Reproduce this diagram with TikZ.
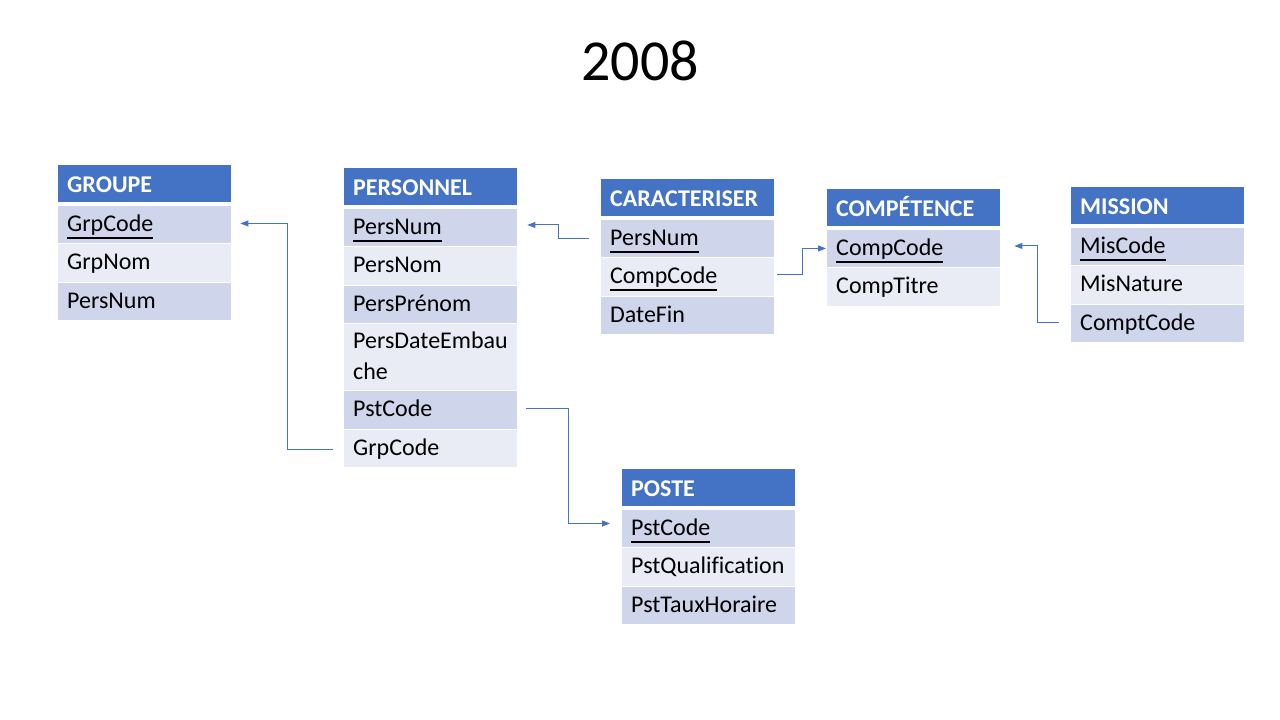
\documentclass[tikz,border=0pt]{standalone}
\usepackage{fontspec}
\setmainfont[Ligatures=NoCommon]{Carlito}
\usetikzlibrary{arrows.meta}
\definecolor{hdrblue}{HTML}{4472C4}
\definecolor{rowdark}{HTML}{CFD5EA}
\definecolor{rowlight}{HTML}{E9EBF5}
\newcommand{\keyul}[1]{\setbox0\hbox{#1}\rlap{\smash{\rule[-7.5pt]{\wd0}{2pt}}}\box0}
\newcommand{\rowstrut}{\rule[-8pt]{0pt}{30pt}}
\newcommand{\hdrstrut}{\rule[-6pt]{0pt}{29pt}}
\begin{document}
\begin{tikzpicture}[x=1pt,y=-1pt,
  tbl/.style={anchor=north west, inner xsep=9pt, inner ysep=0pt, text width=155pt, align=left, font=\fontsize{24}{28.8}\selectfont},
  hdr/.style={tbl, fill=hdrblue, text=white, font=\bfseries\fontsize{24}{28.8}\selectfont, minimum height=37pt, execute at begin node=\hdrstrut},
  rd/.style={tbl, fill=rowdark, minimum height=37.5pt, execute at begin node=\rowstrut, execute at end node=\rowstrut},
  rl/.style={tbl, fill=rowlight, minimum height=37.5pt, execute at begin node=\rowstrut, execute at end node=\rowstrut},
  conn/.style={draw=hdrblue, line width=1pt, -{Triangle[length=8pt,width=6pt]}}]
\useasboundingbox[fill=white] (0,0) rectangle (1280,720);
\node[font=\fontsize{58}{70}\selectfont] (title) at (640,61) {2008};
% GROUPE
\node[hdr] (g0) at (58,165) {GROUPE};
\node[rd] (g1) at (58,205.5) {\keyul{GrpCode}};
\node[rl] (g2) at (58,244) {GrpNom};
\node[rd] (g3) at (58,282.5) {PersNum};
% PERSONNEL
\node[hdr] (p0) at (344,168) {PERSONNEL};
\node[rd] (p1) at (344,208.5) {\keyul{PersNum}};
\node[rl] (p2) at (344,247) {PersNom};
\node[rd] (p3) at (344,285.5) {PersPrénom};
\node[rl, minimum height=66pt] (p4) at (344,324) {PersDateEmbau\\che};
\node[rd] (p5) at (344,391) {PstCode};
\node[rl] (p6) at (344,429.5) {GrpCode};
% CARACTERISER
\node[hdr] (c0) at (601,179) {CARACTERISER};
\node[rd] (c1) at (601,219.5) {\keyul{PersNum}};
\node[rl] (c2) at (601,258) {\keyul{CompCode}};
\node[rd] (c3) at (601,296.5) {DateFin};
% COMPETENCE
\node[hdr] (k0) at (827,189) {COMPÉTENCE};
\node[rd] (k1) at (827,229.5) {\keyul{CompCode}};
\node[rl] (k2) at (827,268) {CompTitre};
% MISSION
\node[hdr] (m0) at (1071,187) {MISSION};
\node[rd] (m1) at (1071,227.5) {\keyul{MisCode}};
\node[rl] (m2) at (1071,266) {MisNature};
\node[rd] (m3) at (1071,304.5) {ComptCode};
% POSTE
\node[hdr] (s0) at (622,469) {POSTE};
\node[rd] (s1) at (622,509.5) {\keyul{PstCode}};
\node[rl] (s2) at (622,548) {PstQualification};
\node[rd] (s3) at (622,586.5) {PstTauxHoraire};
% connectors
\draw[conn] ([xshift=-11pt,yshift=-1.5pt]p6.west) -- ++(-46,0) |- ([xshift=9pt,yshift=1pt]g1.east);
\draw[conn] ([xshift=-12pt]c1.west) -- ++(-31,0) |- ([xshift=10pt,yshift=2.5pt]p1.east);
\draw[conn] ([xshift=3pt,yshift=2pt]c2.east) -- ++(25,0) |- ([xshift=-1pt]k1.west);
\draw[conn] ([xshift=-12pt,yshift=1pt]m3.west) -- ++(-22,0) |- ([xshift=14pt,yshift=2.5pt]k1.east);
\draw[conn] ([xshift=9pt,yshift=1.5pt]p5.east) -- ++(42,0) |- ([xshift=-12pt,yshift=5pt]s1.west);
\end{tikzpicture}
\end{document}
